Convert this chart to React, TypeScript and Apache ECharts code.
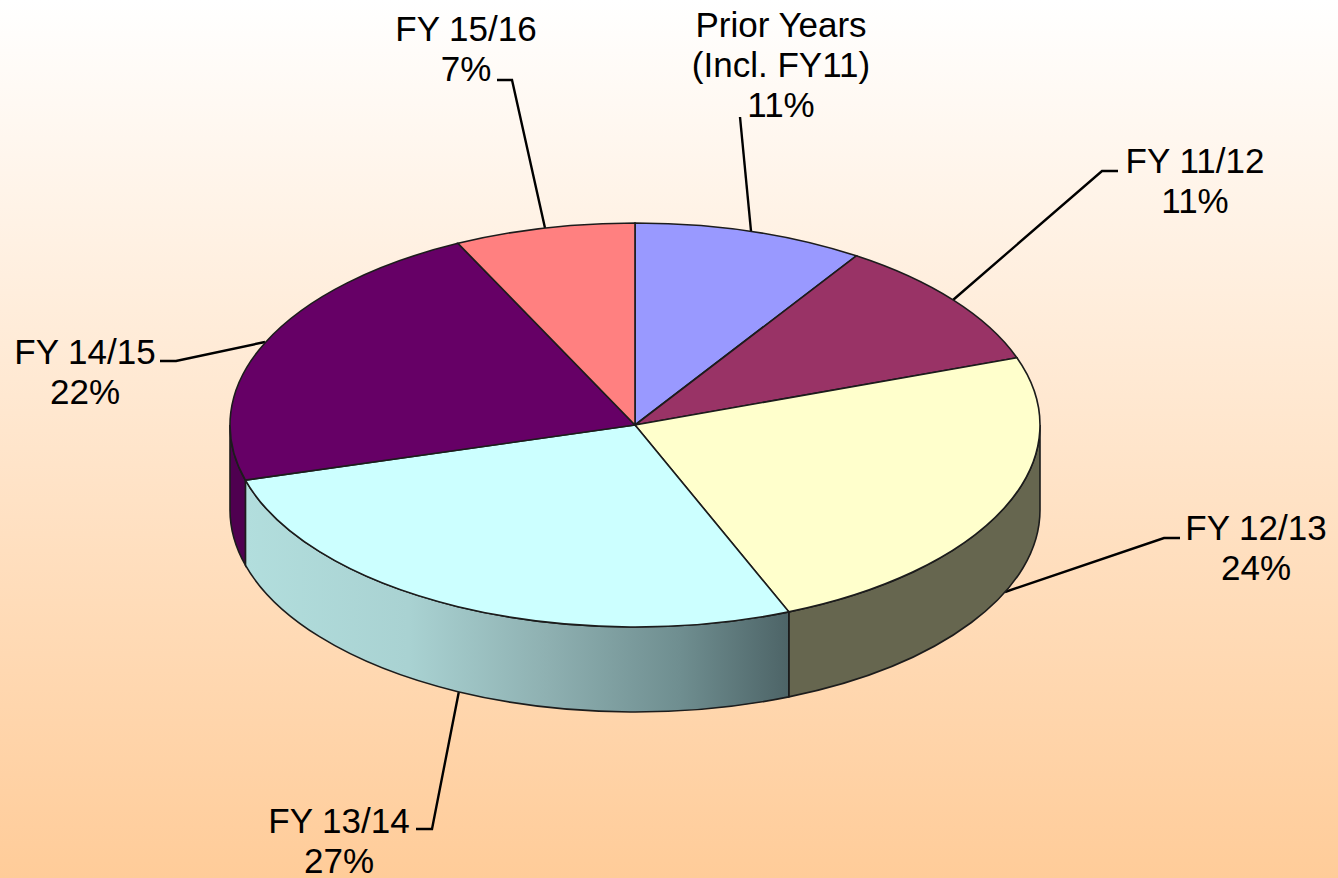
import React, { useEffect, useRef } from "react";
import * as echarts from "echarts";

// Data
const categories = ["Prior Years\n(Incl. FY11)", "FY 11/12", "FY 12/13", "FY 13/14", "FY 14/15", "FY 15/16"];
const percentLabels = [11, 11, 24, 27, 22, 7];
// Share of the drawn ellipse that each slice occupies in the picture (3-D view skews it a little)
const drawnShares = [9.2, 10.4, 24.2, 26.8, 22.2, 7.2];

// Styles
const topColors = ["#9999ff", "#993366", "#ffffcc", "#ccffff", "#660066", "#ff8080"];
const wallColors: any[] = [
  "#9999ff",
  "#993366",
  "#66664f",
  new echarts.graphic.LinearGradient(0, 0, 1, 0, [
    { offset: 0, color: "#b2dedd" },
    { offset: 0.3, color: "#a9d2d2" },
    { offset: 0.55, color: "#8fb1b2" },
    { offset: 0.8, color: "#6f8e90" },
    { offset: 1, color: "#4d6467" },
  ]),
  "#4f0050",
  "#ff8080",
];

// Layout
const CX = 635, CY = 425, RX = 405, RY = 202, DEPTH = 85;
const labelAnchors = [[781, 64], [1195, 180], [1256, 547], [339, 840], [85, 371], [466, 48]];
const leaderPaths = [
  [[740, 117], [751, 231]],
  [[1118, 171], [1102, 171], [953, 300]],
  [[1180, 538], [1164, 538], [1005, 592]],
  [[416, 829], [432, 829], [459, 691]],
  [[160, 361], [176, 361], [265, 342]],
  [[497, 80], [512, 80], [545, 228]],
];

const total = drawnShares.reduce((a, b) => a + b, 0);
const pt = (deg: number, dy = 0) => {
  const r = (deg * Math.PI) / 180;
  return [CX + RX * Math.sin(r), CY - RY * Math.cos(r) + dy];
};

export default function App() {
  const ref = useRef<HTMLDivElement>(null);
  useEffect(() => {
    document.body.style.margin = "0";
    document.body.style.overflow = "hidden";
    const chart = echarts.init(ref.current!, undefined, { renderer: "svg" });

    const renderItem = (_params: any, api: any) => {
      const i = _params.dataIndex;
      const share = api.value(0);
      const pct = api.value(1);
      let before = 0;
      for (let k = 0; k < i; k++) before += drawnShares[k];
      const a = (before / total) * 360;
      const b = a + (share / total) * 360;
      const children: any[] = [];

      // leader line
      children.push({
        type: "polyline",
        shape: { points: leaderPaths[i] },
        style: { stroke: "#000", lineWidth: 2.4, fill: "none" },
        z2: 1,
      });

      // front wall
      const w0 = Math.max(a, 90), w1 = Math.min(b, 270);
      if (w1 > w0) {
        const p = pt(w0), q = pt(w1), p2 = pt(w0, DEPTH), q2 = pt(w1, DEPTH);
        children.push({
          type: "path",
          shape: {
            pathData: `M${p[0]} ${p[1]}A${RX} ${RY} 0 0 1 ${q[0]} ${q[1]}L${q2[0]} ${q2[1]}A${RX} ${RY} 0 0 0 ${p2[0]} ${p2[1]}Z`,
          },
          style: { fill: wallColors[i], stroke: "#1c1c1c", lineWidth: 1.6 },
          z2: 2,
        });
      }

      // top face
      const s = pt(a), e = pt(b);
      const large = b - a > 180 ? 1 : 0;
      children.push({
        type: "path",
        shape: {
          pathData: `M${CX} ${CY}L${s[0]} ${s[1]}A${RX} ${RY} 0 ${large} 1 ${e[0]} ${e[1]}Z`,
        },
        style: { fill: topColors[i], stroke: "#1c1c1c", lineWidth: 1.6 },
        z2: 3,
      });

      // label
      children.push({
        type: "text",
        x: labelAnchors[i][0],
        y: labelAnchors[i][1],
        style: {
          text: `${categories[i]}\n${pct}%`,
          fontFamily: "Liberation Sans",
          fontSize: 35,
          lineHeight: 40,
          fill: "#000",
          align: "center",
          verticalAlign: "middle",
        },
        z2: 4,
      });

      return { type: "group", children };
    };

    chart.setOption({
      animation: false,
      backgroundColor: new echarts.graphic.LinearGradient(0, 0, 0, 1, [
        { offset: 0, color: "#ffffff" },
        { offset: 1, color: "#ffcc99" },
      ]),
      series: [
        {
          type: "custom",
          coordinateSystem: "none",
          silent: true,
          renderItem,
          data: drawnShares.map((v, i) => [v, percentLabels[i]]),
          encode: { value: [0, 1] },
        },
      ],
    });
    return () => chart.dispose();
  }, []);
  return <div ref={ref} style={{ width: 1338, height: 878 }} />;
}
